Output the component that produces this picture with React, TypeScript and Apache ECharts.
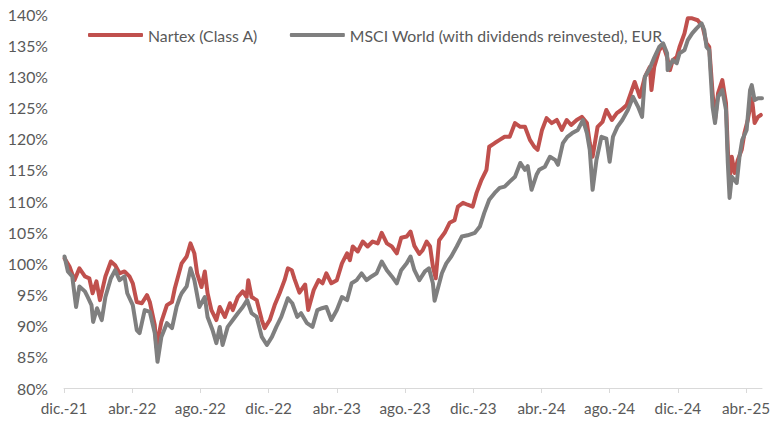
import React, { useEffect, useRef } from "react";
import * as echarts from "echarts";

const tickLabels = ["dic.-21", "abr.-22", "ago.-22", "dic.-22", "abr.-23", "ago.-23", "dic.-23", "abr.-24", "ago.-24", "dic.-24", "abr.-25"];
const seriesNames = ["Nartex (Class A)", "MSCI World (with dividends reinvested), EUR"];
const seriesColors = ["#C0504D", "#7F7F7F"];

const nartexDates = [
  "2021-12-02", "2021-12-11", "2021-12-20", "2021-12-29", "2022-01-08", "2022-01-16", "2022-01-22", "2022-01-29",
  "2022-02-04", "2022-02-13", "2022-02-22", "2022-03-01", "2022-03-09", "2022-03-18", "2022-03-27", "2022-04-02",
  "2022-04-09", "2022-04-18", "2022-04-27", "2022-05-02", "2022-05-11", "2022-05-14", "2022-05-23", "2022-06-02",
  "2022-06-11", "2022-06-16", "2022-06-28", "2022-07-07", "2022-07-14", "2022-07-21", "2022-07-26", "2022-08-03",
  "2022-08-09", "2022-08-14", "2022-08-21", "2022-08-30", "2022-09-05", "2022-09-14", "2022-09-23", "2022-09-28",
  "2022-10-07", "2022-10-16", "2022-10-23", "2022-10-26", "2022-11-01", "2022-11-10", "2022-11-19", "2022-11-24",
  "2022-12-03", "2022-12-12", "2022-12-21", "2022-12-30", "2023-01-05", "2023-01-12", "2023-01-17", "2023-01-26",
  "2023-02-05", "2023-02-10", "2023-02-19", "2023-02-27", "2023-03-06", "2023-03-13", "2023-03-22", "2023-04-01",
  "2023-04-10", "2023-04-19", "2023-04-24", "2023-04-29", "2023-05-08", "2023-05-17", "2023-05-26", "2023-06-04",
  "2023-06-13", "2023-06-20", "2023-06-29", "2023-07-08", "2023-07-17", "2023-07-25", "2023-08-04", "2023-08-11",
  "2023-08-18", "2023-08-27", "2023-09-02", "2023-09-09", "2023-09-15", "2023-09-20", "2023-09-25", "2023-10-01",
  "2023-10-11", "2023-10-20", "2023-10-29", "2023-11-04", "2023-11-13", "2023-11-21", "2023-11-30", "2023-12-07",
  "2023-12-16", "2023-12-25", "2023-12-30", "2024-01-09", "2024-01-18", "2024-01-27", "2024-02-05", "2024-02-14",
  "2024-02-23", "2024-03-02", "2024-03-11", "2024-03-19", "2024-03-25", "2024-04-02", "2024-04-10", "2024-04-19",
  "2024-04-28", "2024-05-07", "2024-05-16", "2024-05-24", "2024-06-03", "2024-06-12", "2024-06-21", "2024-06-26",
  "2024-07-01", "2024-07-10", "2024-07-19", "2024-07-26", "2024-08-05", "2024-08-14", "2024-08-22", "2024-09-01",
  "2024-09-10", "2024-09-15", "2024-09-24", "2024-10-03", "2024-10-12", "2024-10-15", "2024-10-20", "2024-10-29",
  "2024-11-05", "2024-11-12", "2024-11-17", "2024-11-22", "2024-11-29", "2024-12-04", "2024-12-13", "2024-12-19",
  "2024-12-27", "2025-01-06", "2025-01-15", "2025-01-22", "2025-01-27", "2025-02-02", "2025-02-06", "2025-02-11",
  "2025-02-18", "2025-02-24", "2025-02-27", "2025-03-02", "2025-03-06", "2025-03-11", "2025-03-17", "2025-03-24",
  "2025-03-29", "2025-04-04", "2025-04-11", "2025-04-13", "2025-04-16", "2025-04-22", "2025-04-27",
];
const nartexValues = [
  100.8, 99.5, 97.3, 99.2, 97.9, 97.6, 95.2, 97.1,
  94.1, 97.9, 100.3, 99.7, 98.4, 98.7, 97.9, 96.8,
  93.8, 93.6, 94.9, 93.8, 90.1, 86.6, 90.6, 93.3,
  93.8, 96.0, 100.0, 101.1, 103.2, 101.6, 98.4, 96.2,
  98.7, 95.2, 92.5, 90.9, 93.0, 91.4, 93.6, 92.5,
  94.6, 95.5, 94.6, 97.3, 94.6, 94.1, 90.9, 89.6,
  90.9, 93.3, 95.2, 97.3, 99.2, 98.9, 97.5, 95.3,
  96.6, 92.5, 95.7, 97.3, 96.8, 98.4, 96.8, 97.3,
  100.0, 101.6, 100.5, 102.7, 101.9, 103.5, 102.7, 103.5,
  103.2, 104.9, 103.2, 102.7, 101.6, 104.1, 104.3, 105.1,
  102.8, 101.5, 102.1, 103.5, 102.7, 99.5, 97.6, 103.7,
  104.9, 106.5, 106.9, 109.1, 109.7, 109.4, 109.1, 111.3,
  113.4, 115.0, 118.7, 119.3, 119.8, 120.3, 120.3, 122.5,
  121.9, 121.9, 119.8, 118.7, 118.2, 121.4, 123.3, 122.5,
  123.0, 121.4, 123.0, 122.2, 123.0, 123.5, 122.5, 119.3,
  117.1, 121.9, 122.7, 124.6, 123.0, 124.1, 124.6, 125.4,
  127.8, 129.1, 126.7, 129.9, 131.5, 127.8, 131.5, 134.2,
  135.0, 133.1, 131.0, 132.6, 133.1, 134.7, 136.9, 139.3,
  139.3, 139.0, 138.0, 135.3, 134.7, 127.3, 123.0, 127.3,
  129.4, 125.7, 118.2, 113.4, 117.1, 114.5, 116.6, 118.2,
  120.9, 123.0, 126.5, 125.1, 122.5, 123.5, 123.8,
];

const msciDates = [
  "2021-12-02", "2021-12-08", "2021-12-16", "2021-12-23", "2021-12-29", "2022-01-08", "2022-01-13", "2022-01-20",
  "2022-01-23", "2022-01-30", "2022-02-07", "2022-02-13", "2022-02-22", "2022-03-01", "2022-03-09", "2022-03-18",
  "2022-03-23", "2022-04-02", "2022-04-09", "2022-04-14", "2022-04-23", "2022-05-02", "2022-05-11", "2022-05-16",
  "2022-05-23", "2022-06-02", "2022-06-11", "2022-06-19", "2022-06-25", "2022-06-28", "2022-07-07", "2022-07-14",
  "2022-07-21", "2022-07-30", "2022-08-09", "2022-08-14", "2022-08-23", "2022-08-30", "2022-09-05", "2022-09-10",
  "2022-09-19", "2022-09-28", "2022-10-07", "2022-10-16", "2022-10-24", "2022-11-01", "2022-11-10", "2022-11-19",
  "2022-11-28", "2022-12-07", "2022-12-15", "2022-12-24", "2023-01-05", "2023-01-13", "2023-01-22", "2023-01-29",
  "2023-02-08", "2023-02-17", "2023-02-25", "2023-03-05", "2023-03-13", "2023-03-22", "2023-04-01", "2023-04-10",
  "2023-04-19", "2023-04-27", "2023-05-06", "2023-05-15", "2023-05-24", "2023-06-02", "2023-06-11", "2023-06-20",
  "2023-06-29", "2023-07-08", "2023-07-17", "2023-07-25", "2023-08-04", "2023-08-11", "2023-08-18", "2023-08-27",
  "2023-09-06", "2023-09-13", "2023-09-20", "2023-09-23", "2023-10-06", "2023-10-14", "2023-10-23", "2023-11-02",
  "2023-11-11", "2023-11-21", "2023-12-04", "2023-12-13", "2023-12-21", "2023-12-30", "2024-01-09", "2024-01-18",
  "2024-01-27", "2024-02-05", "2024-02-14", "2024-02-23", "2024-03-02", "2024-03-07", "2024-03-14", "2024-03-23",
  "2024-03-28", "2024-04-07", "2024-04-16", "2024-04-25", "2024-04-30", "2024-05-09", "2024-05-17", "2024-05-26",
  "2024-06-05", "2024-06-14", "2024-06-21", "2024-06-26", "2024-07-01", "2024-07-08", "2024-07-17", "2024-07-26",
  "2024-08-01", "2024-08-07", "2024-08-15", "2024-08-24", "2024-09-03", "2024-09-12", "2024-09-21", "2024-09-28",
  "2024-10-03", "2024-10-12", "2024-10-20", "2024-10-29", "2024-11-05", "2024-11-12", "2024-11-13", "2024-11-22",
  "2024-11-29", "2024-12-04", "2024-12-13", "2024-12-19", "2024-12-27", "2025-01-04", "2025-01-13", "2025-01-18",
  "2025-01-22", "2025-01-27", "2025-02-02", "2025-02-06", "2025-02-11", "2025-02-18", "2025-02-24", "2025-02-27",
  "2025-03-02", "2025-03-06", "2025-03-15", "2025-03-20", "2025-03-25", "2025-04-02", "2025-04-08", "2025-04-11",
  "2025-04-16", "2025-04-22", "2025-04-29",
];
const msciValues = [
  101.1, 98.7, 97.9, 93.0, 96.3, 95.5, 94.6, 93.3,
  90.6, 92.8, 90.9, 94.6, 97.6, 98.9, 97.3, 97.9,
  95.2, 93.3, 89.3, 88.8, 92.5, 92.2, 88.8, 84.2,
  88.2, 90.4, 89.6, 93.0, 94.6, 95.2, 96.3, 99.2,
  97.3, 93.0, 94.6, 91.4, 89.3, 87.2, 89.8, 86.9,
  89.8, 90.9, 92.0, 93.0, 94.1, 92.0, 91.4, 88.2,
  86.9, 88.2, 89.8, 91.4, 94.4, 93.6, 91.4, 92.0,
  90.4, 89.8, 92.5, 92.8, 93.0, 90.9, 92.5, 94.6,
  94.1, 96.8, 97.3, 98.4, 97.3, 97.9, 98.4, 100.3,
  98.9, 97.9, 96.8, 98.9, 100.0, 101.1, 98.9, 97.3,
  98.7, 99.2, 96.8, 94.0, 98.4, 100.0, 101.1, 102.7,
  104.3, 104.5, 104.9, 105.9, 108.1, 110.2, 111.3, 112.1,
  112.3, 113.1, 113.9, 116.1, 115.0, 115.6, 111.8, 114.2,
  115.0, 115.5, 117.1, 116.6, 115.8, 119.3, 120.3, 120.9,
  121.4, 123.0, 120.9, 118.2, 111.8, 116.6, 120.3, 120.0,
  116.3, 120.3, 121.9, 123.0, 124.6, 126.7, 125.1, 123.5,
  129.9, 131.3, 133.0, 134.7, 135.3, 133.7, 131.0, 132.6,
  132.1, 133.7, 134.2, 135.8, 136.9, 137.7, 138.5, 137.4,
  134.7, 134.2, 125.1, 122.5, 126.7, 127.8, 124.6, 116.1,
  110.5, 113.9, 112.9, 117.1, 119.8, 121.4, 127.8, 128.6,
  126.2, 126.5, 126.5,
];

const axisStart = "2021-12-01";
const axisEnd = "2025-04-29";
const monthsPerTick = 4;

// months elapsed since the first axis month (fractional)
function toMonths(s: string): number {
  const [y, m, d] = s.split("-").map(Number);
  const [y0, m0] = axisStart.split("-").map(Number);
  const dim = new Date(y, m, 0).getDate();
  return (y - y0) * 12 + (m - m0) + (d - 1) / dim;
}

const FONT = "Lato, 'Open Sans', sans-serif";

export default function App() {
  const ref = useRef<HTMLDivElement>(null);
  useEffect(() => {
    if (!ref.current) return;
    const chart = echarts.init(ref.current, null, { renderer: "svg" });
    const tickValues = tickLabels.map((_, i) => i * monthsPerTick);
    chart.setOption({
      animation: false,
      backgroundColor: "#ffffff",
      textStyle: { fontFamily: FONT },
      grid: { left: 64, right: 19, top: 14, bottom: 33, containLabel: false },
      legend: {
        left: 83,
        top: 22,
        icon: "roundRect",
        itemWidth: 55,
        itemHeight: 4,
        itemGap: 32,
        textStyle: { fontSize: 15.8, color: "#595959", fontFamily: FONT },
        data: seriesNames,
      },
      xAxis: {
        type: "value",
        min: 0,
        max: toMonths(axisEnd),
        interval: monthsPerTick,
        splitLine: { show: false },
        axisLine: { show: true, lineStyle: { color: "#D9D9D9", width: 1 } },
        axisTick: { show: true, length: 5, lineStyle: { color: "#D9D9D9" }, customValues: tickValues },
        axisLabel: {
          customValues: tickValues,
          margin: 12,
          fontSize: 15.3,
          color: "#595959",
          fontFamily: FONT,
          formatter: (v: number) => tickLabels[Math.round(v / monthsPerTick)] ?? "",
        },
      },
      yAxis: {
        type: "value",
        min: 80,
        max: 140,
        interval: 5,
        splitLine: { show: false },
        axisLine: { show: false },
        axisTick: { show: false },
        axisLabel: {
          margin: 16,
          fontSize: 15.8,
          color: "#595959",
          fontFamily: FONT,
          formatter: (v: number) => `${v}%`,
        },
      },
      series: [
        {
          name: seriesNames[0],
          type: "line",
          showSymbol: false,
          symbol: "none",
          data: nartexDates.map((d, i) => [toMonths(d), nartexValues[i]]),
          lineStyle: { color: seriesColors[0], width: 4, join: "round", cap: "round" },
          itemStyle: { color: seriesColors[0] },
        },
        {
          name: seriesNames[1],
          type: "line",
          showSymbol: false,
          symbol: "none",
          data: msciDates.map((d, i) => [toMonths(d), msciValues[i]]),
          lineStyle: { color: seriesColors[1], width: 4, join: "round", cap: "round" },
          itemStyle: { color: seriesColors[1] },
        },
      ],
    });
    return () => chart.dispose();
  }, []);
  return (
    <div
      ref={ref}
      style={{ position: "fixed", left: 0, top: 0, width: 781, height: 421, background: "#fff" }}
    />
  );
}
